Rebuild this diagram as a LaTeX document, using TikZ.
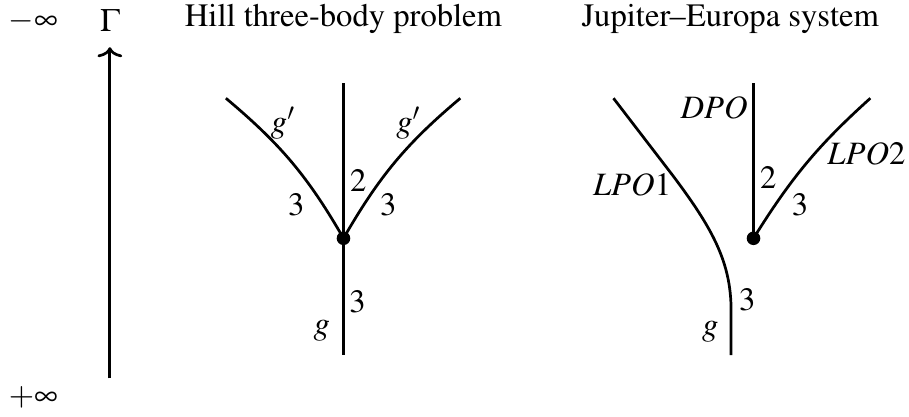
\documentclass[tikz,border=0pt]{standalone}
\usepackage[T1]{fontenc}
\usepackage{mathptmx}
\usetikzlibrary{arrows.meta}

\begin{document}
\begin{tikzpicture}[
      >={To[length=1.3mm,width=3.2mm]},
      line width=1pt,
      every node/.style={font=\fontsize{12}{14}\selectfont,inner sep=0pt},
      vtx/.style={circle,fill=black,minimum size=5pt,inner sep=0pt}
    ]
    \useasboundingbox (0,0) rectangle (11.75,5.39);
    % axis Gamma
    \node (minf) at (0.43,5.11) {$-\infty$};
    \node (pinf) at (0.43,0.25) {$+\infty$};
    \node (gam) at (1.42,5.12) {$\Gamma$};
    \coordinate (ax0) at (1.42,0.50);
    \coordinate (ax1) at (1.42,4.78);
    \draw[->] (ax0) -- (ax1);
    % captions
    \node (hill) at (4.44,5.14) {Hill three-body problem};
    \node (je) at (9.44,5.14) {Jupiter--Europa system};
    % Hill three-body problem
    \node[vtx] (h0) at (4.44,2.31) {};
    \coordinate (hl) at (2.92,4.12);
    \coordinate (hr) at (5.95,4.12);
    \coordinate (ht) at (4.44,4.32);
    \coordinate (hb) at (4.44,0.80);
    \draw (h0.center) -- (ht);
    \draw (h0.center) -- (hb);
    \draw (hl) to[out=-40,in=120] (h0.center);
    \draw (hr) to[out=-140,in=60] (h0.center);
    \node at (3.66,3.80) {$g'$};
    \node at (5.28,3.80) {$g'$};
    \node at (4.63,3.06) {$2$};
    \node at (3.83,2.74) {$3$};
    \node at (5.02,2.74) {$3$};
    \node at (4.62,1.49) {$3$};
    \node at (4.16,1.12) {$g$};
    % Jupiter-Europa system
    \node[vtx] (j0) at (9.74,2.31) {};
    \coordinate (jt) at (9.74,4.32);
    \coordinate (jr) at (11.25,4.12);
    \coordinate (jl) at (7.93,4.12);
    \coordinate (jp) at (8.69,3.13);
    \coordinate (jq) at (9.45,1.38);
    \coordinate (jb) at (9.45,0.80);
    \draw (j0.center) -- (jt);
    \draw (j0.center) to[out=58,in=-138] (jr);
    \draw (jl) -- (jp) .. controls (9.21,2.44) and (9.45,2.00) .. (jq) -- (jb);
    \node at (9.23,4.00) {$DPO$};
    \node at (8.17,3.00) {$LPO1$};
    \node at (11.20,3.40) {$LPO2$};
    \node at (9.93,3.09) {$2$};
    \node at (10.34,2.74) {$3$};
    \node at (9.66,1.51) {$3$};
    \node at (9.18,1.10) {$g$};
  \end{tikzpicture}
\end{document}
